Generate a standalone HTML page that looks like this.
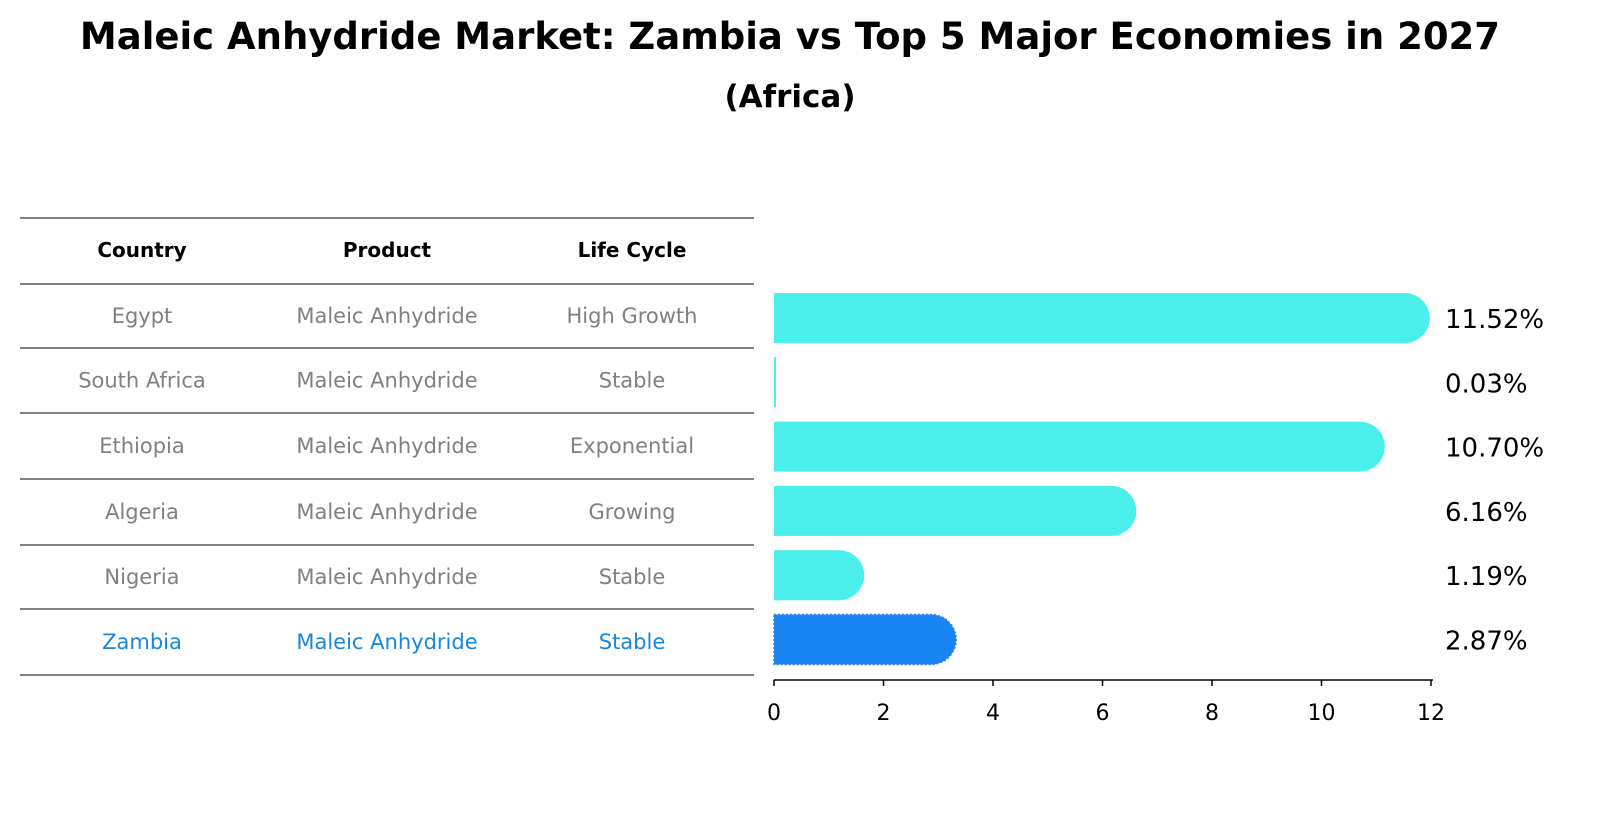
<!DOCTYPE html>
<html><head><meta charset="utf-8"><style>
html,body{margin:0;padding:0;background:#fff;overflow:hidden;width:1604px;height:823px;}
svg{display:block;}
svg text{font-family:"DejaVu Sans","Liberation Sans",sans-serif;}
</style></head><body>
<svg id="chart" width="1604" height="823" xmlns="http://www.w3.org/2000/svg">
<text x="790" y="49" text-anchor="middle" font-size="37" font-weight="bold">Maleic Anhydride Market: Zambia vs Top 5 Major Economies in 2027</text>
<text x="790" y="107" text-anchor="middle" font-size="31" font-weight="bold">(Africa)</text>
<g id="table"></g>
<g id="bars"></g>
<g id="axis"></g>
</svg>
<script>
const countries=["Egypt","South Africa","Ethiopia","Algeria","Nigeria","Zambia"];
const products=["Maleic Anhydride","Maleic Anhydride","Maleic Anhydride","Maleic Anhydride","Maleic Anhydride","Maleic Anhydride"];
const lifeCycles=["High Growth","Stable","Exponential","Growing","Stable","Stable"];
const values=[11.52,0.03,10.70,6.16,1.19,2.87];
const valueLabels=["11.52%","0.03%","10.70%","6.16%","1.19%","2.87%"];
const ticks=[0,2,4,6,8,10,12];
const NS="http://www.w3.org/2000/svg";
function mk(t,a,p){const e=document.createElementNS(NS,t);for(const k in a)e.setAttribute(k,a[k]);p.appendChild(e);return e;}
const x=v=>774+v*54.75;
const rowY=i=>318+i*64.3;
const tbl=document.getElementById('table');
const lines=[218,284,348,413,479,545,609,675];
lines.forEach(y=>{const l=mk('line',{x1:20,x2:754,y1:y,y2:y,stroke:'#000','stroke-width':1},tbl);

});
const cols=[142,387,632];
["Country","Product","Life Cycle"].forEach((h,j)=>{const t=mk('text',{x:cols[j],y:257,'text-anchor':'middle','font-size':20,'font-weight':'bold'},tbl);t.textContent=h;

});
countries.forEach((c,i)=>{const y=(lines[i+1]+lines[i+2])/2+7;const col=i===5?'#1a86d9':'#808080';
[c,products[i],lifeCycles[i]].forEach((s,j)=>{const t=mk('text',{x:cols[j],y:y,'text-anchor':'middle','font-size':21,fill:col},tbl);t.textContent=s;

});});
const bg=document.getElementById('bars');
values.forEach((v,i)=>{const cy=rowY(i);const h=50;const w=x(v)-774;const col=i===5?'#1984f4':'#4aeeea';
const g=mk('g',{},bg);


if(v<0.5){mk('rect',{x:774,y:cy-25,width:Math.max(w,2),height:h,fill:col},g);}
else{const p=mk('path',{d:`M774 ${cy-25} H${x(v)} A25 25 0 0 1 ${x(v)} ${cy+25} H774 Z`,fill:col},g);
if(i===5){p.setAttribute('stroke','#3a7fd8');p.setAttribute('stroke-dasharray','2 2');p.setAttribute('stroke-width','1.5');}}
const t=mk('text',{x:1445,y:cy+10,'font-size':26},bg);t.textContent=valueLabels[i];

});
const ax=document.getElementById('axis');
mk('line',{x1:774,x2:1433,y1:680,y2:680,stroke:'#000','stroke-width':1.5},ax);
ticks.forEach(v=>{mk('line',{x1:x(v),x2:x(v),y1:680,y2:686,stroke:'#000','stroke-width':1.5},ax);
const t=mk('text',{x:x(v),y:720,'text-anchor':'middle','font-size':22},ax);t.textContent=v;

});
</script>
</body></html>
